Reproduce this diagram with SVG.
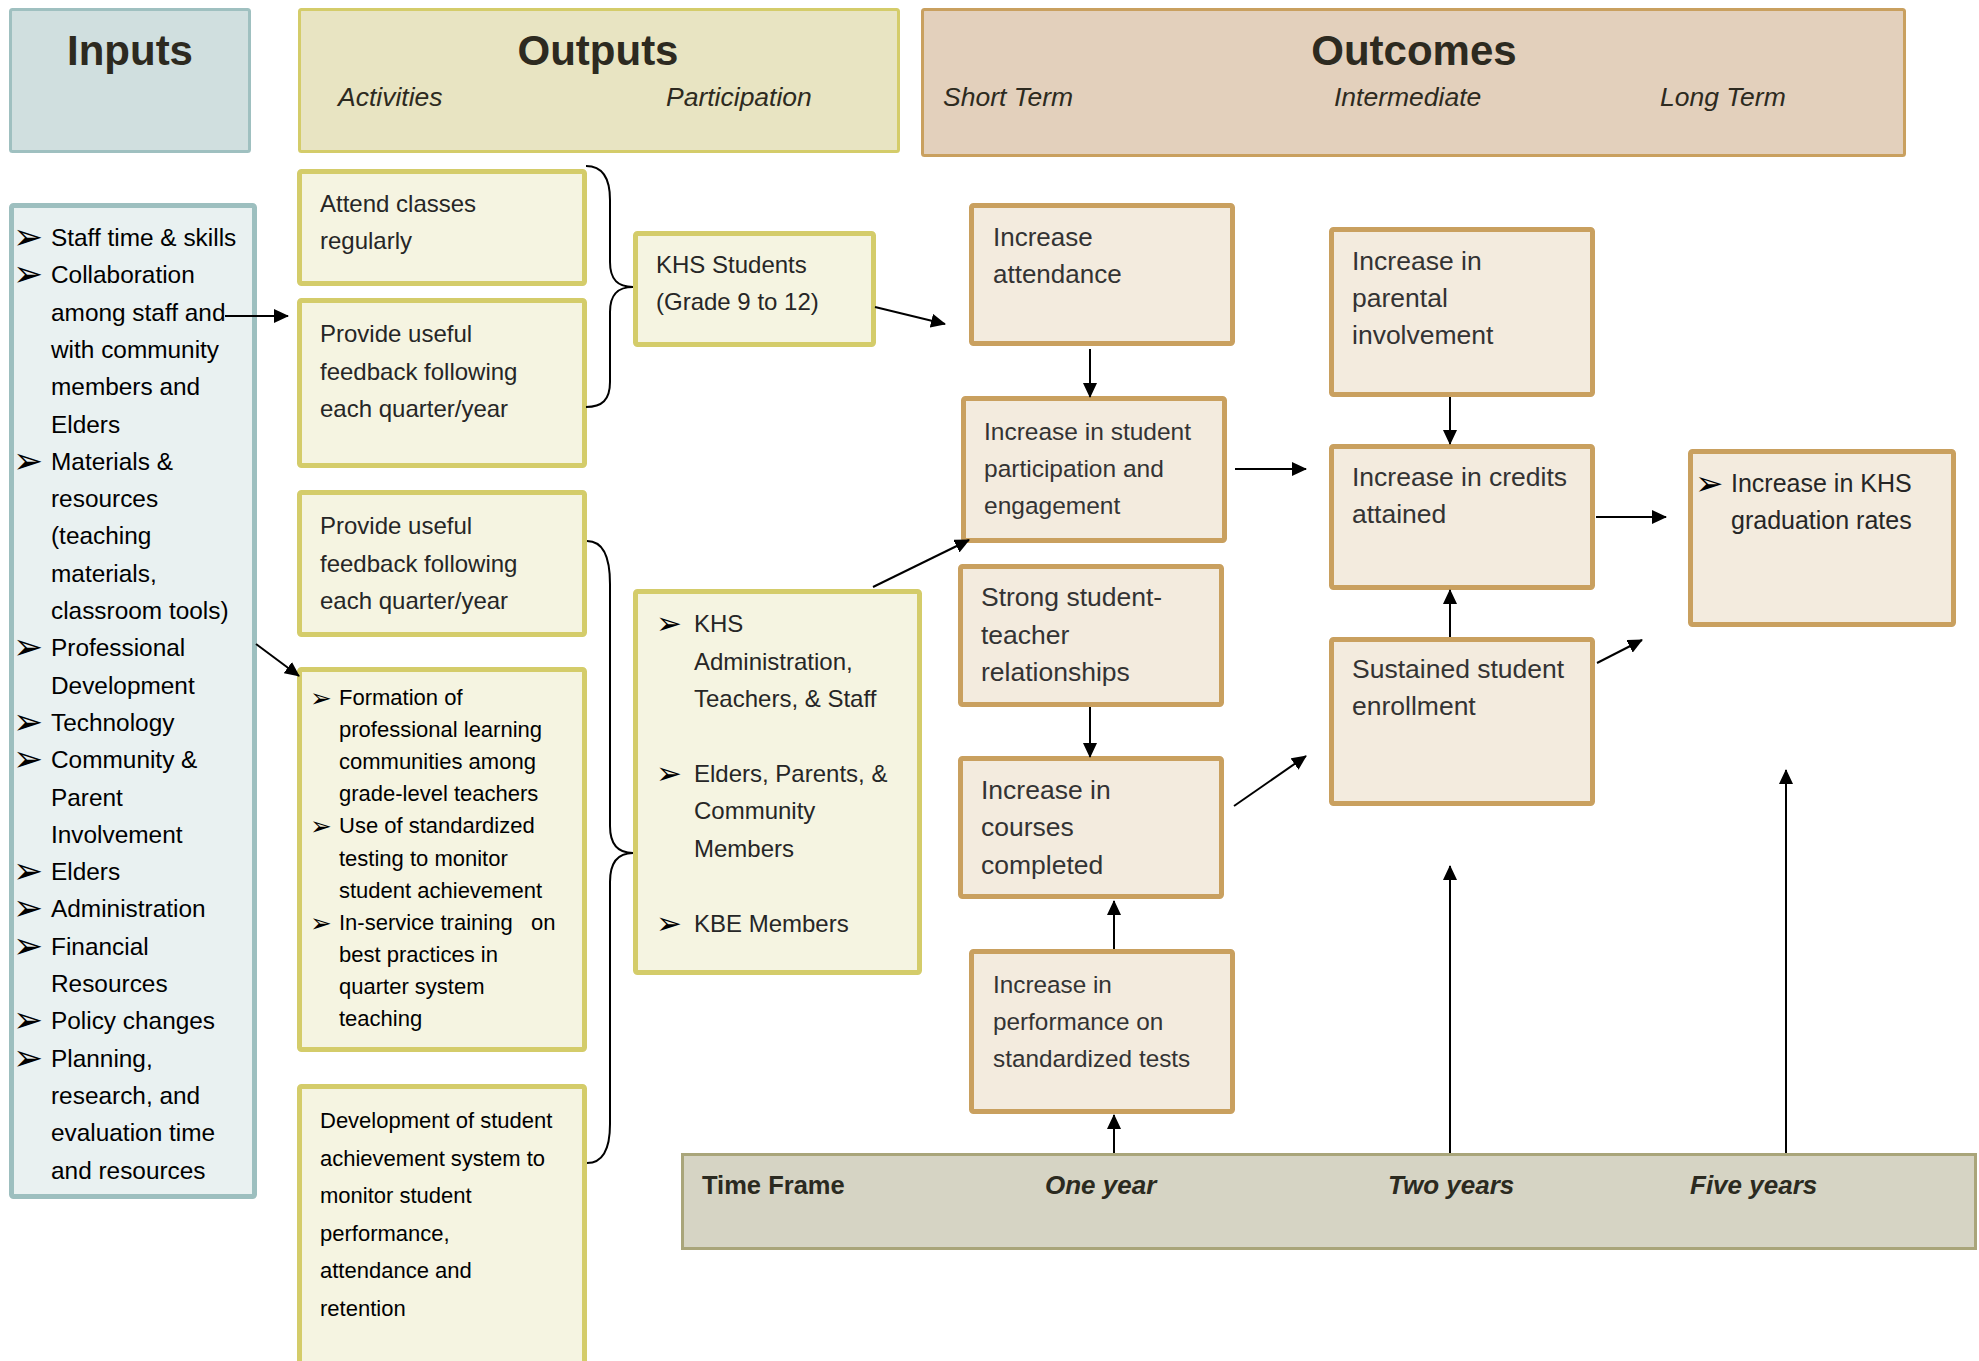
<svg xmlns="http://www.w3.org/2000/svg" width="1979" height="1361" viewBox="0 0 1979 1361">
<defs>
<marker id="ah" viewBox="0 0 15 14" refX="14" refY="7" markerWidth="15" markerHeight="14" markerUnits="userSpaceOnUse" orient="auto">
<path d="M0,0 L15,7 L0,14 z" fill="#000"/>
</marker>
<style>
text{font-family:"Liberation Sans",Arial,sans-serif;fill:#262626}
.hdr{font-weight:bold;font-size:42px;fill:#2d2a20;text-anchor:middle}
.sub{font-style:italic;font-size:26.5px;fill:#2d2a20}
.bul{font-family:"DejaVu Sans",sans-serif;fill:#000}
.inp{font-size:24.4px;fill:#000}
.act{font-size:24px}
.actd{font-size:22px;fill:#000}
.tf{font-weight:bold;font-size:25.5px;fill:#2b2a20}
.tfi{font-weight:bold;font-style:italic;font-size:26px;fill:#2b2a20}
.hin{fill:#d0dfdf;stroke:#9fc0c0;stroke-width:3}
.hout{fill:#e8e4c2;stroke:#d4cc6a;stroke-width:3}
.hoc{fill:#e3d0bc;stroke:#c9a05f;stroke-width:3}
.bin{fill:#e9f1f1;stroke:#9dbfbf;stroke-width:5}
.bact{fill:#f5f4e1;stroke:#d4cc6a;stroke-width:5}
.boc{fill:#f3ebde;stroke:#c9a05f;stroke-width:5}
.btf{fill:#d6d4c4;stroke:#a9a57a;stroke-width:3}
.oc{fill:#333}
.con line,.con path{stroke:#000;stroke-width:2;fill:none}
.con line{marker-end:url(#ah)}
</style>
</defs>

<g id="inputs-header">
<rect class="hin" x="10.5" y="9.5" width="239" height="142" rx="2"/>
<text class="hdr" x="130" y="65">Inputs</text>
</g>

<g id="outputs-header">
<rect class="hout" x="299.5" y="9.5" width="599" height="142" rx="2"/>
<text class="hdr" x="598" y="65">Outputs</text>
<text class="sub" x="338" y="106">Activities</text>
<text class="sub" x="666" y="106">Participation</text>
</g>

<g id="outcomes-header">
<rect class="hoc" x="922.5" y="9.5" width="982" height="146" rx="2"/>
<text class="hdr" x="1414" y="65">Outcomes</text>
<text class="sub" x="943" y="106">Short Term</text>
<text class="sub" x="1334" y="106">Intermediate</text>
<text class="sub" x="1660" y="106">Long Term</text>
</g>

<g id="inputs-list">
<rect class="bin" x="11.5" y="205.5" width="243" height="991" rx="2"/>
<g font-size="36">
<text class="bul" x="13" y="249">➢</text>
<text class="bul" x="13" y="286.3">➢</text>
<text class="bul" x="13" y="472.8">➢</text>
<text class="bul" x="13" y="659.3">➢</text>
<text class="bul" x="13" y="733.9">➢</text>
<text class="bul" x="13" y="771.2">➢</text>
<text class="bul" x="13" y="883.1">➢</text>
<text class="bul" x="13" y="920.4">➢</text>
<text class="bul" x="13" y="957.7">➢</text>
<text class="bul" x="13" y="1032.3">➢</text>
<text class="bul" x="13" y="1069.6">➢</text>
</g>
<text class="inp" x="51" y="246">Staff time &amp; skills</text>
<text class="inp" x="51" y="283.3">Collaboration</text>
<text class="inp" x="51" y="320.6">among staff and</text>
<text class="inp" x="51" y="357.9">with community</text>
<text class="inp" x="51" y="395.2">members and</text>
<text class="inp" x="51" y="432.5">Elders</text>
<text class="inp" x="51" y="469.8">Materials &amp;</text>
<text class="inp" x="51" y="507.1">resources</text>
<text class="inp" x="51" y="544.4">(teaching</text>
<text class="inp" x="51" y="581.7">materials,</text>
<text class="inp" x="51" y="619">classroom tools)</text>
<text class="inp" x="51" y="656.3">Professional</text>
<text class="inp" x="51" y="693.6">Development</text>
<text class="inp" x="51" y="730.9">Technology</text>
<text class="inp" x="51" y="768.2">Community &amp;</text>
<text class="inp" x="51" y="805.5">Parent</text>
<text class="inp" x="51" y="842.8">Involvement</text>
<text class="inp" x="51" y="880.1">Elders</text>
<text class="inp" x="51" y="917.4">Administration</text>
<text class="inp" x="51" y="954.7">Financial</text>
<text class="inp" x="51" y="992">Resources</text>
<text class="inp" x="51" y="1029.3">Policy changes</text>
<text class="inp" x="51" y="1066.6">Planning,</text>
<text class="inp" x="51" y="1103.9">research, and</text>
<text class="inp" x="51" y="1141.2">evaluation time</text>
<text class="inp" x="51" y="1178.5">and resources</text>
</g>

<g id="act-attend">
<rect class="bact" x="299.5" y="171.5" width="285" height="112" rx="2"/>
<text class="act" x="320" y="212">Attend classes</text>
<text class="act" x="320" y="249">regularly</text>
</g>

<g id="act-feedback-1">
<rect class="bact" x="299.5" y="300.5" width="285" height="165" rx="2"/>
<text class="act" x="320" y="342">Provide useful</text>
<text class="act" x="320" y="379.5">feedback following</text>
<text class="act" x="320" y="417">each quarter/year</text>
</g>

<g id="part-students">
<rect class="bact" x="635.5" y="233.5" width="238" height="111" rx="2"/>
<text class="act" font-size="23.5" x="656" y="273">KHS Students</text>
<text class="act" font-size="23.5" x="656" y="310">(Grade 9 to 12)</text>
</g>

<g id="act-feedback-2">
<rect class="bact" x="299.5" y="492.5" width="285" height="142" rx="2"/>
<text class="act" x="320" y="534">Provide useful</text>
<text class="act" x="320" y="571.5">feedback following</text>
<text class="act" x="320" y="609">each quarter/year</text>
</g>

<g id="act-professional">
<rect class="bact" x="299.5" y="669.5" width="285" height="380" rx="2"/>
<text class="bul" font-size="26" x="310" y="707">➢</text>
<text class="bul" font-size="26" x="310" y="835.4">➢</text>
<text class="bul" font-size="26" x="310" y="931.7">➢</text>
<text class="actd" x="339" y="705">Formation of</text>
<text class="actd" x="339" y="737.1">professional learning</text>
<text class="actd" x="339" y="769.2">communities among</text>
<text class="actd" x="339" y="801.3">grade-level teachers</text>
<text class="actd" x="339" y="833.4">Use of standardized</text>
<text class="actd" x="339" y="865.5">testing to monitor</text>
<text class="actd" x="339" y="897.6">student achievement</text>
<text class="actd" x="339" y="929.7" xml:space="preserve">In-service training   on</text>
<text class="actd" x="339" y="961.8">best practices in</text>
<text class="actd" x="339" y="993.9">quarter system</text>
<text class="actd" x="339" y="1026">teaching</text>
</g>

<g id="act-development">
<rect class="bact" x="299.5" y="1086.5" width="285" height="300" rx="2"/>
<text class="actd" x="320" y="1128">Development of student</text>
<text class="actd" x="320" y="1165.5">achievement system to</text>
<text class="actd" x="320" y="1203">monitor student</text>
<text class="actd" x="320" y="1240.5">performance,</text>
<text class="actd" x="320" y="1278">attendance and</text>
<text class="actd" x="320" y="1315.5">retention</text>
</g>

<g id="part-staff">
<rect class="bact" x="635.5" y="591.5" width="284" height="381" rx="2"/>
<text class="bul" font-size="31" x="656" y="634">➢</text>
<text class="bul" font-size="31" x="656" y="784">➢</text>
<text class="bul" font-size="31" x="656" y="933.6">➢</text>
<text class="act" font-size="23.7" x="694" y="632">KHS</text>
<text class="act" font-size="23.7" x="694" y="669.5">Administration,</text>
<text class="act" font-size="23.7" x="694" y="707">Teachers, &amp; Staff</text>
<text class="act" font-size="23.7" x="694" y="782">Elders, Parents, &amp;</text>
<text class="act" font-size="23.7" x="694" y="819.4">Community</text>
<text class="act" font-size="23.7" x="694" y="856.8">Members</text>
<text class="act" font-size="23.7" x="694" y="931.6">KBE Members</text>
</g>

<g id="oc-attendance">
<rect class="boc" x="971.5" y="205.5" width="261" height="138" rx="2"/>
<text class="oc" font-size="26" x="993" y="246">Increase</text>
<text class="oc" font-size="26" x="993" y="283">attendance</text>
</g>

<g id="oc-participation">
<rect class="boc" x="963.5" y="398.5" width="261" height="142" rx="2"/>
<text class="oc" font-size="24.5" x="984" y="440">Increase in student</text>
<text class="oc" font-size="24.5" x="984" y="477">participation and</text>
<text class="oc" font-size="24.5" x="984" y="514">engagement</text>
</g>

<g id="oc-relationships">
<rect class="boc" x="960.5" y="566.5" width="261" height="138" rx="2"/>
<text class="oc" font-size="26.5" x="981" y="606">Strong student-</text>
<text class="oc" font-size="26.5" x="981" y="644">teacher</text>
<text class="oc" font-size="26.5" x="981" y="681">relationships</text>
</g>

<g id="oc-courses">
<rect class="boc" x="960.5" y="758.5" width="261" height="138" rx="2"/>
<text class="oc" font-size="26.5" x="981" y="799">Increase in</text>
<text class="oc" font-size="26.5" x="981" y="836">courses</text>
<text class="oc" font-size="26.5" x="981" y="874">completed</text>
</g>

<g id="oc-tests">
<rect class="boc" x="971.5" y="951.5" width="261" height="160" rx="2"/>
<text class="oc" font-size="24.3" x="993" y="993">Increase in</text>
<text class="oc" font-size="24.3" x="993" y="1030">performance on</text>
<text class="oc" font-size="24.3" x="993" y="1067">standardized tests</text>
</g>

<g id="oc-parental">
<rect class="boc" x="1331.5" y="229.5" width="261" height="165" rx="2"/>
<text class="oc" font-size="26.5" x="1352" y="270">Increase in</text>
<text class="oc" font-size="26.5" x="1352" y="307">parental</text>
<text class="oc" font-size="26.5" x="1352" y="344">involvement</text>
</g>

<g id="oc-credits">
<rect class="boc" x="1331.5" y="446.5" width="261" height="141" rx="2"/>
<text class="oc" font-size="26.5" x="1352" y="486">Increase in credits</text>
<text class="oc" font-size="26.5" x="1352" y="523">attained</text>
</g>

<g id="oc-enrollment">
<rect class="boc" x="1331.5" y="639.5" width="261" height="164" rx="2"/>
<text class="oc" font-size="26.5" x="1352" y="678">Sustained student</text>
<text class="oc" font-size="26.5" x="1352" y="715">enrollment</text>
</g>

<g id="oc-graduation">
<rect class="boc" x="1690.5" y="451.5" width="263" height="173" rx="2"/>
<text class="bul" font-size="34" x="1695" y="495">➢</text>
<text font-size="25" fill="#000" x="1731" y="492">Increase in KHS</text>
<text font-size="25" fill="#000" x="1731" y="529">graduation rates</text>
</g>

<g id="time-frame">
<rect class="btf" x="682.5" y="1154.5" width="1293" height="94"/>
<text class="tf" x="702" y="1194">Time Frame</text>
<text class="tfi" x="1045" y="1194">One year</text>
<text class="tfi" x="1388" y="1194">Two years</text>
<text class="tfi" x="1690" y="1194">Five years</text>
</g>

<g id="connectors" class="con">
<path d="M586,166 C602,166 610,178 610,200 L610,262 C610,280 618,287 633,287 C618,287 610,294 610,312 L610,382 C610,400 602,407 586,407"/>
<path d="M587,541 C603,541 610,556 610,584 L610,826 C610,844 618,853 633,853 C618,853 610,862 610,882 L610,1124 C610,1150 603,1163 587,1163"/>
<line x1="225" y1="316" x2="288" y2="316"/>
<line x1="256" y1="644" x2="299" y2="676"/>
<line x1="875" y1="307" x2="945" y2="324"/>
<line x1="873" y1="587" x2="969" y2="540"/>
<line x1="1090" y1="349" x2="1090" y2="397"/>
<line x1="1235" y1="469" x2="1306" y2="469"/>
<line x1="1450" y1="397" x2="1450" y2="444"/>
<line x1="1596" y1="517" x2="1666" y2="517"/>
<line x1="1450" y1="637" x2="1450" y2="590"/>
<line x1="1597" y1="663" x2="1642" y2="640"/>
<line x1="1090" y1="707" x2="1090" y2="757"/>
<line x1="1234" y1="806" x2="1306" y2="756"/>
<line x1="1114" y1="949" x2="1114" y2="901"/>
<line x1="1114" y1="1153" x2="1114" y2="1115"/>
<line x1="1450" y1="1153" x2="1450" y2="866"/>
<line x1="1786" y1="1153" x2="1786" y2="770"/>
</g>
</svg>
